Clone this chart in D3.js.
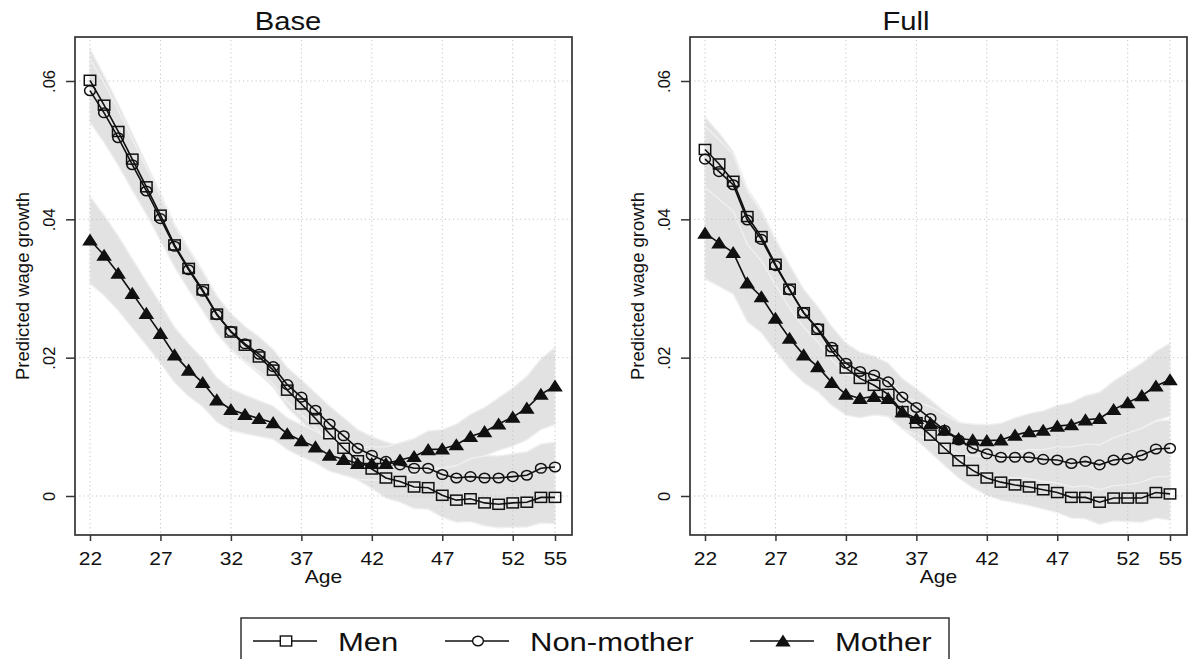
<!DOCTYPE html>
<html>
<head>
<meta charset="utf-8">
<script src="https://cdn.jsdelivr.net/npm/d3@7"></script>
<style>
  body { margin: 0; background: #fff; }
  svg { display: block; font-family: "Liberation Sans", Arial, sans-serif; }
</style>
</head>
<body>
<div id="chart"></div>
<script>
// ages on the x axis
const ages = [22,23,24,25,26,27,28,29,30,31,32,33,34,35,36,37,38,39,40,41,42,43,44,45,46,47,48,49,50,51,52,53,54,55];
const xTicks = [22,27,32,37,42,47,52,55];
const yTicks = [0, 0.02, 0.04, 0.06];
const seriesNames = ["Men", "Non-mother", "Mother"];

// Base model: predicted wage growth
const baseMen = [0.0601,0.0565,0.0527,0.0487,0.0447,0.0406,0.0363,0.0329,0.0298,0.0263,0.0237,0.0218,0.0201,0.0182,0.0153,0.0133,0.0112,0.0090,0.0069,0.0051,0.0039,0.0026,0.0021,0.0013,0.0012,0.0001,-0.0006,-0.0004,-0.0010,-0.0012,-0.0010,-0.0009,-0.0002,-0.0002];
const baseNonMother = [0.0586,0.0554,0.0518,0.0479,0.0441,0.0401,0.0361,0.0327,0.0296,0.0262,0.0238,0.0220,0.0205,0.0187,0.0161,0.0143,0.0124,0.0104,0.0087,0.0069,0.0059,0.0050,0.0045,0.0040,0.0040,0.0031,0.0026,0.0028,0.0026,0.0026,0.0028,0.0030,0.0040,0.0042];
const baseMother = [0.0370,0.0348,0.0322,0.0293,0.0264,0.0235,0.0204,0.0182,0.0164,0.0139,0.0125,0.0118,0.0112,0.0106,0.0090,0.0080,0.0071,0.0059,0.0053,0.0047,0.0047,0.0047,0.0052,0.0057,0.0067,0.0068,0.0074,0.0086,0.0093,0.0104,0.0114,0.0127,0.0147,0.0159];
// Base model: half width of the confidence band
const baseMenCI = [0.0046,0.0043,0.0040,0.0037,0.0034,0.0032,0.0030,0.0029,0.0028,0.0027,0.0026,0.0025,0.0025,0.0025,0.0025,0.0025,0.0026,0.0026,0.0027,0.0028,0.0028,0.0029,0.0030,0.0031,0.0031,0.0032,0.0032,0.0033,0.0033,0.0034,0.0035,0.0036,0.0037,0.0038];
const baseNonMotherCI = [0.0046,0.0043,0.0040,0.0037,0.0034,0.0032,0.0030,0.0029,0.0028,0.0027,0.0026,0.0025,0.0025,0.0025,0.0025,0.0025,0.0025,0.0026,0.0026,0.0027,0.0027,0.0028,0.0028,0.0029,0.0029,0.0030,0.0030,0.0031,0.0032,0.0032,0.0033,0.0034,0.0035,0.0036];
const baseMotherCI = [0.0063,0.0058,0.0054,0.0050,0.0046,0.0043,0.0040,0.0038,0.0035,0.0032,0.0030,0.0028,0.0026,0.0024,0.0023,0.0023,0.0023,0.0023,0.0023,0.0023,0.0024,0.0024,0.0025,0.0026,0.0027,0.0028,0.0030,0.0032,0.0035,0.0038,0.0042,0.0046,0.0051,0.0056];

// Full model: predicted wage growth
const fullMen = [0.0501,0.0480,0.0455,0.0404,0.0375,0.0335,0.0299,0.0265,0.0241,0.0210,0.0185,0.0170,0.0160,0.0147,0.0122,0.0106,0.0088,0.0069,0.0051,0.0037,0.0026,0.0020,0.0016,0.0013,0.0009,0.0005,-0.0002,-0.0002,-0.0009,-0.0003,-0.0003,-0.0003,0.0005,0.0003];
const fullNonMother = [0.0487,0.0469,0.0450,0.0399,0.0371,0.0333,0.0298,0.0265,0.0242,0.0215,0.0192,0.0180,0.0175,0.0165,0.0143,0.0128,0.0112,0.0095,0.0081,0.0069,0.0061,0.0056,0.0056,0.0056,0.0053,0.0052,0.0047,0.0050,0.0045,0.0052,0.0054,0.0059,0.0068,0.0069];
const fullMother = [0.0380,0.0366,0.0352,0.0308,0.0288,0.0257,0.0228,0.0204,0.0187,0.0164,0.0147,0.0141,0.0144,0.0141,0.0122,0.0112,0.0105,0.0095,0.0083,0.0081,0.0080,0.0081,0.0088,0.0093,0.0095,0.0101,0.0103,0.0110,0.0112,0.0125,0.0135,0.0145,0.0159,0.0168];
// Full model: half width of the confidence band
const fullMenCI = [0.0047,0.0045,0.0043,0.0041,0.0039,0.0037,0.0035,0.0033,0.0031,0.0029,0.0028,0.0027,0.0026,0.0025,0.0025,0.0025,0.0025,0.0025,0.0025,0.0025,0.0025,0.0026,0.0026,0.0027,0.0028,0.0029,0.0030,0.0031,0.0032,0.0033,0.0034,0.0035,0.0037,0.0038];
const fullNonMotherCI = [0.0048,0.0046,0.0044,0.0042,0.0040,0.0038,0.0036,0.0034,0.0032,0.0030,0.0029,0.0028,0.0027,0.0027,0.0027,0.0027,0.0027,0.0027,0.0027,0.0028,0.0028,0.0029,0.0030,0.0031,0.0032,0.0033,0.0034,0.0035,0.0036,0.0037,0.0038,0.0039,0.0040,0.0041];
const fullMotherCI = [0.0066,0.0063,0.0060,0.0056,0.0052,0.0048,0.0044,0.0040,0.0036,0.0033,0.0030,0.0028,0.0027,0.0026,0.0025,0.0024,0.0024,0.0023,0.0023,0.0023,0.0023,0.0024,0.0025,0.0026,0.0028,0.0030,0.0032,0.0035,0.0038,0.0041,0.0044,0.0047,0.0050,0.0053];

const W = 1189, H = 659;
const SX = 1.17;          // the original picture is a bit wider than it is tall
const ink = "#111";

const svg = d3.select("#chart").append("svg")
  .attr("width", W)
  .attr("height", H);

// text stretched horizontally like the source image
function hText(parent, x, y, txt, size, anchor) {
  return parent.append("text")
    .attr("transform", `translate(${x},${y}) scale(${SX},1)`)
    .attr("text-anchor", anchor || "middle")
    .attr("font-size", size)
    .attr("fill", ink)
    .text(txt);
}

function marker(sel, kind) {
  if (kind === "square") {
    return sel.append("rect").attr("x", -5.7).attr("y", -5).attr("width", 11.4).attr("height", 10);
  } else if (kind === "circle") {
    return sel.append("ellipse").attr("rx", 5.4).attr("ry", 4.8);
  }
  return sel.append("path").attr("d", "M0,-5.2 L6.4,4.8 L-6.4,4.8 Z");
}

const panels = [
  { title: "Base", box: [75, 572], range: [90, 555], titleX: 288,
    series: [
      { name: "Men", kind: "square", values: baseMen, ci: baseMenCI },
      { name: "Non-mother", kind: "circle", values: baseNonMother, ci: baseNonMotherCI },
      { name: "Mother", kind: "triangle", values: baseMother, ci: baseMotherCI }
    ] },
  { title: "Full", box: [690, 1187], range: [705, 1170], titleX: 906,
    series: [
      { name: "Men", kind: "square", values: fullMen, ci: fullMenCI },
      { name: "Non-mother", kind: "circle", values: fullNonMother, ci: fullNonMotherCI },
      { name: "Mother", kind: "triangle", values: fullMother, ci: fullMotherCI }
    ] }
];

const plotTop = 37, plotBottom = 535;
const y = d3.scaleLinear().domain([-0.00564, 0.06636]).range([plotBottom, plotTop]);

panels.forEach(p => {
  const g = svg.append("g");
  const x = d3.scaleLinear().domain([22, 55]).range(p.range);
  const [bl, br] = p.box;

  // confidence bands
  const band = d3.area()
    .x((d, i) => x(ages[i]))
    .y0(d => y(d[0]))
    .y1(d => y(d[1]));
  p.series.forEach(s => {
    const rows = s.values.map((v, i) => [v - s.ci[i], v + s.ci[i]]);
    g.append("path")
      .datum(rows)
      .attr("d", band)
      .attr("fill", "#e2e2e2")
      .attr("stroke", "#f0f0f0")
      .attr("stroke-width", 1.4);
  });

  // dotted grid
  g.selectAll("line.gy").data(yTicks).enter().append("line")
    .attr("x1", bl).attr("x2", br)
    .attr("y1", d => y(d)).attr("y2", d => y(d))
    .attr("stroke", "#c4c4c4").attr("stroke-dasharray", "1.2,3");
  g.selectAll("line.gx").data(xTicks).enter().append("line")
    .attr("x1", d => x(d)).attr("x2", d => x(d))
    .attr("y1", plotTop + 3).attr("y2", plotBottom)
    .attr("stroke", "#c4c4c4").attr("stroke-dasharray", "1.2,3");

  // series lines and markers
  const line = d3.line().x((d, i) => x(ages[i])).y(d => y(d));
  p.series.forEach(s => {
    g.append("path")
      .datum(s.values)
      .attr("d", line)
      .attr("fill", "none")
      .attr("stroke", ink)
      .attr("stroke-width", 1.6);
    const pts = g.selectAll(null).data(s.values).enter().append("g")
      .attr("transform", (d, i) => `translate(${x(ages[i])},${y(d)})`);
    marker(pts, s.kind)
      .attr("fill", s.kind === "triangle" ? ink : "none")
      .attr("stroke", ink)
      .attr("stroke-width", 1.5);
  });

  // frame
  g.append("rect")
    .attr("x", bl).attr("y", plotTop)
    .attr("width", br - bl).attr("height", plotBottom - plotTop)
    .attr("fill", "none").attr("stroke", "#333").attr("stroke-width", 1.7);

  // y axis
  const yAxis = g.append("g")
    .attr("transform", `translate(${bl},0)`)
    .call(d3.axisLeft(y).tickValues(yTicks).tickSize(9).tickSizeOuter(0)
      .tickFormat(d => d === 0 ? "0" : d3.format(".2f")(d).replace(/^0/, "")));
  yAxis.select(".domain").remove();
  yAxis.selectAll(".tick line").attr("stroke", "#333").attr("stroke-width", 1.5);
  yAxis.selectAll(".tick text")
    .attr("x", null).attr("dy", "0.35em")
    .attr("transform", "translate(-26,0) rotate(-90)")
    .attr("text-anchor", "middle")
    .attr("font-size", 16.5)
    .attr("font-family", '"Liberation Sans", Arial, sans-serif')
    .attr("fill", ink);

  // x axis
  const xAxis = g.append("g")
    .attr("transform", `translate(0,${plotBottom})`)
    .call(d3.axisBottom(x).tickValues(xTicks).tickSize(6).tickSizeOuter(0));
  xAxis.select(".domain").remove();
  xAxis.selectAll(".tick line").attr("stroke", "#333").attr("stroke-width", 1.5);
  xAxis.selectAll(".tick text")
    .attr("y", null).attr("dy", null)
    .attr("transform", `translate(0,30) scale(${SX},1)`)
    .attr("font-size", 18)
    .attr("font-family", '"Liberation Sans", Arial, sans-serif')
    .attr("fill", ink);

  // titles
  hText(g, p.titleX, 29.5, p.title, 25);
  hText(g, (bl + br) / 2, 583, "Age", 18);
  g.append("text")
    .attr("transform", `translate(${bl - 52},${(plotTop + plotBottom) / 2}) rotate(-90)`)
    .attr("dy", "0.35em")
    .attr("text-anchor", "middle")
    .attr("font-size", 18.5)
    .attr("fill", ink)
    .text("Predicted wage growth");
});

// legend
const legend = svg.append("g");
legend.append("rect")
  .attr("x", 241).attr("y", 618)
  .attr("width", 708).attr("height", 60)
  .attr("fill", "#fff").attr("stroke", "#333").attr("stroke-width", 1.5);

const legendX = [286, 478, 783];   // symbol centres
const legendKinds = ["square", "circle", "triangle"];
seriesNames.forEach((name, i) => {
  const cx = legendX[i];
  legend.append("line")
    .attr("x1", cx - 33).attr("x2", cx + 31)
    .attr("y1", 641).attr("y2", 641)
    .attr("stroke", ink).attr("stroke-width", 1.5);
  const m = legend.append("g").attr("transform", `translate(${cx},641)`);
  marker(m, legendKinds[i])
    .attr("fill", legendKinds[i] === "triangle" ? ink : "#fff")
    .attr("stroke", ink)
    .attr("stroke-width", 1.4);
  hText(legend, cx + 52, 651, name, 26.5, "start");
});
</script>
</body>
</html>
